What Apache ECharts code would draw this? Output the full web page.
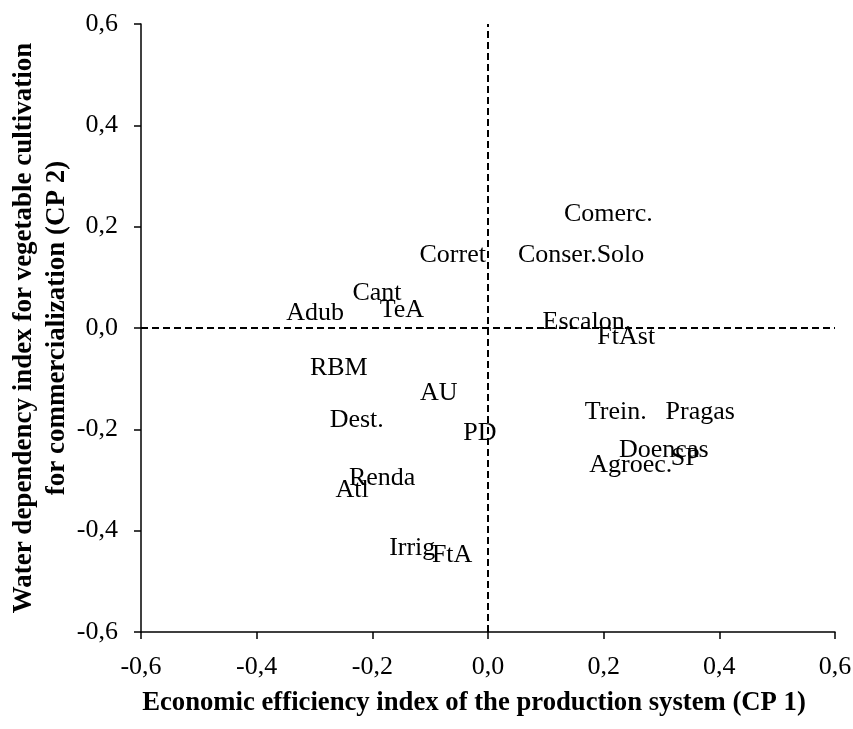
<!DOCTYPE html>
<html>
<head>
<meta charset="utf-8">
<script src="https://cdn.jsdelivr.net/npm/echarts@6/dist/echarts.min.js"></script>
<style>
html,body{margin:0;padding:0;background:#fff;}
#chart{width:853px;height:729px;}
</style>
</head>
<body>
<div id="chart"></div>
<script>
const labels = ["Comerc.","Conser.Solo","Corret","Cant","TeA","Adub","Escalon.","FtAst","RBM","AU","Dest.","PD","Trein.","Pragas","Doencas","SP","Agroec.","Renda","Atl","Irrig","FtA"];
const cp1 = [0.208,0.161,-0.061,-0.192,-0.149,-0.299,0.171,0.239,-0.258,-0.085,-0.227,-0.014,0.221,0.367,0.304,0.341,0.247,-0.183,-0.235,-0.131,-0.062];
const cp2 = [0.225,0.144,0.144,0.069,0.036,0.030,0.012,-0.018,-0.079,-0.128,-0.182,-0.207,-0.166,-0.166,-0.241,-0.257,-0.270,-0.296,-0.320,-0.434,-0.448];
const axisMin = -0.6, axisMax = 0.6, axisStep = 0.2;
const xTitle = "Economic efficiency index of the production system (CP 1)";
const yTitle = "Water dependency index for vegetable cultivation\nfor commercialization (CP 2)";

const FONT = '"Liberation Serif","Times New Roman",serif';
function fmt(v){ let s = Math.abs(v) < 1e-9 ? "0.0" : v.toFixed(1); return s.replace('.', ','); }

const data = labels.map((n,i)=>({name:n, value:[cp1[i], cp2[i]]}));

const chart = echarts.init(document.getElementById('chart'), null, {renderer:'canvas'});
const axisCommon = {
  type:'value', min:axisMin, max:axisMax, interval:axisStep,
  splitLine:{show:false},
  axisLine:{show:true, onZero:false, lineStyle:{color:'#000', width:1.5}},
  axisTick:{show:true, inside:false, length:7, lineStyle:{color:'#000', width:1.5}},
  axisLabel:{color:'#000', fontFamily:FONT, fontSize:26, margin:23, formatter:fmt},
  nameLocation:'middle',
  nameMoveOverlap:false,
  nameTextStyle:{color:'#000', fontFamily:FONT, fontSize:27, fontWeight:'bold', lineHeight:33}
};
chart.setOption({
  animation:false,
  backgroundColor:'#fff',
  grid:{left:141, right:18, top:24, bottom:97, containLabel:false, outerBoundsMode:'none'},
  xAxis:Object.assign({}, axisCommon, {
    name:xTitle, nameGap:55,
    nameTextStyle:Object.assign({}, axisCommon.nameTextStyle, {fontSize:26.7, padding:[0,28,0,0]}),
    axisLabel:Object.assign({}, axisCommon.axisLabel, {margin:22})
  }),
  yAxis:Object.assign({}, axisCommon, {name:yTitle, nameGap:67, nameRotate:90}),
  series:[{
    type:'scatter',
    data:data,
    symbolSize:1,
    itemStyle:{color:'rgba(0,0,0,0)'},
    label:{show:true, position:'inside', formatter:p=>p.name, color:'#000', opacity:1,
      textBorderWidth:0, textBorderColor:'transparent', textShadowBlur:0,
      fontFamily:FONT, fontSize:26, align:'center', verticalAlign:'middle'},
    labelLayout:{hideOverlap:false},
    markLine:{
      silent:true, symbol:'none',
      label:{show:false},
      lineStyle:{color:'#000', type:[7,4], width:2},
      data:[{xAxis:0},{yAxis:0}]
    }
  }]
});
</script>
</body>
</html>
